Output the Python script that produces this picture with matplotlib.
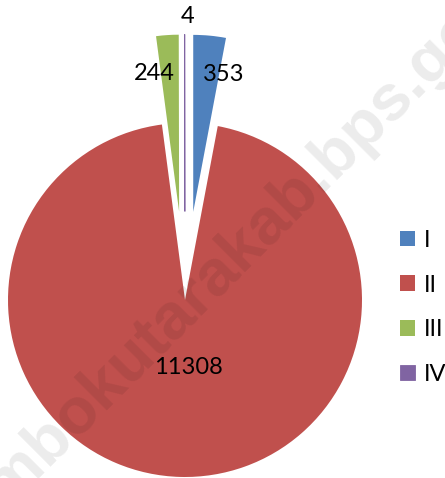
import numpy as np
import matplotlib
matplotlib.use("Agg")
import matplotlib.pyplot as plt

# data
categories = ["I", "II", "III", "IV"]
values = [353, 11308, 244, 4]
colors = ["#4F81BD", "#C0504D", "#9BBB59", "#8064A2"]
explode = [0.5, 0, 0.5, 0.5]

# where each value label sits, relative to its own wedge
label_dist = [0.78, 0.38, 0.78, 1.10]
label_dx = [0.10, 0.03, -0.09, 0.015]

plt.rcParams["font.family"] = ["Lato", "DejaVu Sans"]

fig = plt.figure(figsize=(4.45, 4.78), dpi=100)
ax = fig.add_axes([0, 0, 1, 1])

wedges, _ = ax.pie(values, colors=colors, startangle=90, counterclock=False,
                   explode=explode, radius=1,
                   wedgeprops=dict(linewidth=0))
# the 4 slice is a sliver, give it an outline so it shows
wedges[3].set_edgecolor(colors[3])
wedges[3].set_linewidth(0.6)

for w, val, d, dx in zip(wedges, values, label_dist, label_dx):
    mid = np.deg2rad((w.theta1 + w.theta2) / 2)
    cx, cy = w.center
    ax.text(cx + d * np.cos(mid) + dx, cy + d * np.sin(mid), str(val),
            ha="center", va="center", fontsize=17, color="black")

# pixel mapping: pie centre at (185, 300) px, radius 177 px
ax.set_xlim(-185 / 177, (445 - 185) / 177)
ax.set_ylim(-178 / 177, (478 - 178) / 177)
ax.set_aspect("auto")
ax.axis("off")

fig.legend(wedges, categories, loc="center left", bbox_to_anchor=(0.899, 0.357),
           frameon=False, fontsize=17, borderpad=0, borderaxespad=0,
           handlelength=0.64, handleheight=0.64, handletextpad=0.35,
           labelspacing=1.0)

# watermark
fig.text(0.540, 0.478, "lombokutarakab.bps.go.id", rotation=45,
         ha="center", va="center", fontsize=47, fontweight="bold",
         family="Liberation Sans", color="black", alpha=0.08, zorder=10)

plt.savefig("out.png", dpi=100)
